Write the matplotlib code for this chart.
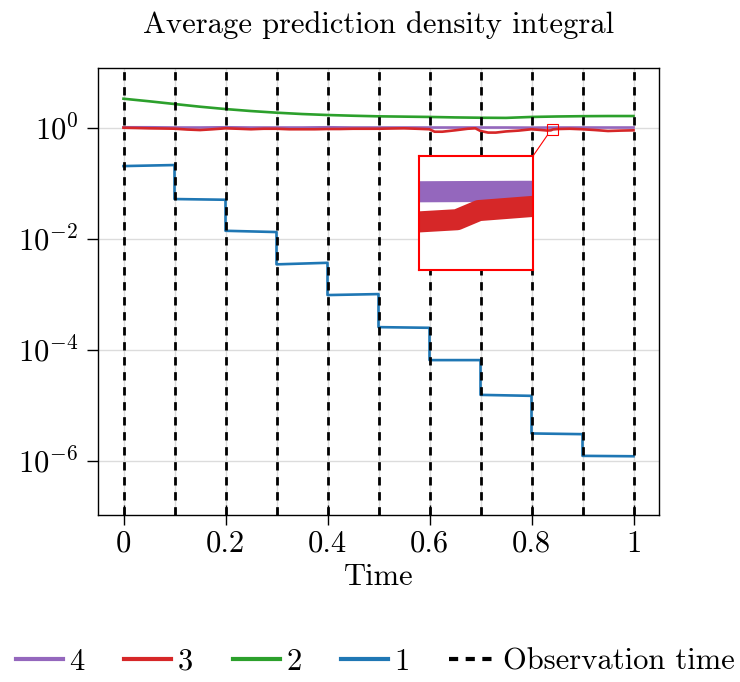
import numpy as np
import matplotlib
matplotlib.use("Agg")
import matplotlib.pyplot as plt
from matplotlib.lines import Line2D
from matplotlib.patches import Rectangle, ConnectionPatch
from matplotlib.ticker import MultipleLocator, NullLocator

plt.rcParams["font.family"] = "serif"
plt.rcParams["font.serif"] = ["cmr10"]
plt.rcParams["mathtext.fontset"] = "cm"
plt.rcParams["axes.formatter.use_mathtext"] = True
plt.rcParams["font.size"] = 22

# observation instants
obs_times = [0.0, 0.1, 0.2, 0.3, 0.4, 0.5, 0.6, 0.7, 0.8, 0.9, 1.0]

# model 1: value at the start / end of every observation interval
m1_start = [0.202, 0.0515, 0.0138, 0.00343, 9.6e-4, 2.54e-4, 6.47e-5, 1.53e-5, 3.09e-6, 1.22e-6]
m1_end = [0.211, 0.050, 0.0131, 0.00366, 1.0e-3, 2.47e-4, 6.47e-5, 1.47e-5, 3.0e-6, 1.2e-6]

# models 2 and 4 on a coarse grid
t_coarse = [0.0, 0.05, 0.1, 0.15, 0.2, 0.25, 0.3, 0.35, 0.4, 0.45, 0.5,
            0.55, 0.6, 0.65, 0.7, 0.75, 0.8, 0.85, 0.9, 0.95, 1.0]
m2_vals = [3.3, 2.97, 2.65, 2.37, 2.15, 1.98, 1.85, 1.75, 1.68, 1.63, 1.59,
           1.57, 1.55, 1.52, 1.50, 1.49, 1.55, 1.58, 1.60, 1.61, 1.61]
m4_vals = [1.01, 1.01, 1.0, 1.0, 1.01, 1.0, 1.0, 1.0, 1.01, 1.0, 1.0,
           1.0, 1.0, 1.0, 1.0, 1.0, 0.995, 1.0, 1.0, 1.0, 1.0]

# model 3 (finer near the zoomed window)
t_m3 = [0.0, 0.025, 0.05, 0.075, 0.1, 0.125, 0.15, 0.175, 0.2, 0.225, 0.25,
        0.275, 0.3, 0.325, 0.35, 0.375, 0.4, 0.425, 0.45, 0.475, 0.5, 0.525,
        0.55, 0.575, 0.6, 0.61, 0.625, 0.65, 0.675, 0.69, 0.7, 0.715, 0.73,
        0.75, 0.775, 0.8, 0.82, 0.831, 0.838, 0.842, 0.852, 0.875, 0.9,
        0.925, 0.95, 0.975, 1.0]
m3_vals = [0.99, 0.98, 0.967, 0.96, 0.952, 0.92, 0.90, 0.93, 0.967, 0.95, 0.93,
           0.95, 0.95, 0.93, 0.93, 0.93, 0.94, 0.94, 0.95, 0.95, 0.95, 0.96,
           0.967, 0.95, 0.93, 0.84, 0.84, 0.89, 0.95, 0.967, 0.865, 0.81, 0.81,
           0.85, 0.88, 0.93, 0.90, 0.882, 0.89, 0.924, 0.94, 0.95, 0.93,
           0.90, 0.865, 0.88, 0.89]

c1, c2, c3, c4 = "#1f77b4", "#2ca02c", "#d62728", "#9467bd"
lw = 1.9
mag = 8.0

# piecewise segments for model 1
t1, v1 = [], []
for k in range(len(m1_start)):
    t1 += [obs_times[k], obs_times[k + 1]]
    v1 += [m1_start[k], m1_end[k]]

fig = plt.figure(figsize=(7.4, 6.82), dpi=100)
ax = fig.add_axes([98 / 740, 1 - 515 / 682, 561 / 740, 447 / 682])

ax.plot(t_coarse, m4_vals, color=c4, lw=lw)
ax.plot(t_m3, m3_vals, color=c3, lw=lw)
ax.plot(t_coarse, m2_vals, color=c2, lw=lw)
ax.plot(t1, v1, color=c1, lw=lw)
for t in obs_times:
    ax.axvline(t, color="black", lw=2.0, ls=(0, (3.0, 2.4)), zorder=3)

ax.set_yscale("log")
ax.set_xlim(-0.05, 1.05)
ax.set_ylim(1.05e-7, 11.8)
ax.set_xticks([0, 0.2, 0.4, 0.6, 0.8, 1.0])
ax.set_xticklabels(["0", "0.2", "0.4", "0.6", "0.8", "1"])
ax.xaxis.set_minor_locator(MultipleLocator(0.1))
ax.set_yticks([1e-6, 1e-4, 1e-2, 1])
ax.yaxis.set_minor_locator(NullLocator())
ax.grid(True, which="both", axis="x", color="#dcdcdc", lw=1)
ax.grid(True, which="major", axis="y", color="#dcdcdc", lw=1)
ax.set_axisbelow(True)
ax.tick_params(axis="x", which="major", direction="inout", length=14, width=1, pad=4)
ax.tick_params(axis="x", which="minor", direction="in", length=5, width=1)
ax.tick_params(axis="y", which="major", direction="out", length=8, width=1, pad=6)
for s in ax.spines.values():
    s.set_linewidth(1)
ax.set_xlabel("Time", labelpad=4)
ax.set_title("Average prediction density integral", fontsize=22, pad=25)

# magnified window
zx = (0.831, 0.852)
zy = (0.724, 1.156)
ax.add_patch(Rectangle((zx[0], zy[0]), zx[1] - zx[0], zy[1] - zy[0],
                       fill=False, edgecolor="red", lw=0.8, zorder=4))
axin = fig.add_axes([419 / 740, 1 - 270 / 682, 114 / 740, 114 / 682])
axin.plot(t_coarse, m4_vals, color=c4, lw=lw * mag)
axin.plot(t_m3, m3_vals, color=c3, lw=lw * mag)
axin.set_yscale("log")
axin.set_xlim(*zx)
axin.set_ylim(zy[0], zy[1])
axin.set_xticks([])
axin.set_yticks([])
axin.yaxis.set_minor_locator(NullLocator())
for s in axin.spines.values():
    s.set_color("red")
    s.set_linewidth(1.5)
con = ConnectionPatch(xyA=(zx[0], zy[0]), coordsA=ax.transData,
                      xyB=(1, 1), coordsB=axin.transAxes,
                      color="red", lw=0.8)
fig.add_artist(con)

handles = [Line2D([], [], color=c4, lw=3),
           Line2D([], [], color=c3, lw=3),
           Line2D([], [], color=c2, lw=3),
           Line2D([], [], color=c1, lw=3),
           Line2D([], [], color="black", lw=3, ls=(0, (2.2, 1.8)))]
fig.legend(handles, ["4", "3", "2", "1", "Observation time"], loc="center",
           bbox_to_anchor=(0.507, 1 - 662 / 682), ncol=5, frameon=False,
           handlelength=1.55, handletextpad=0.2, columnspacing=1.3)

fig.savefig("out.png", dpi=100)
